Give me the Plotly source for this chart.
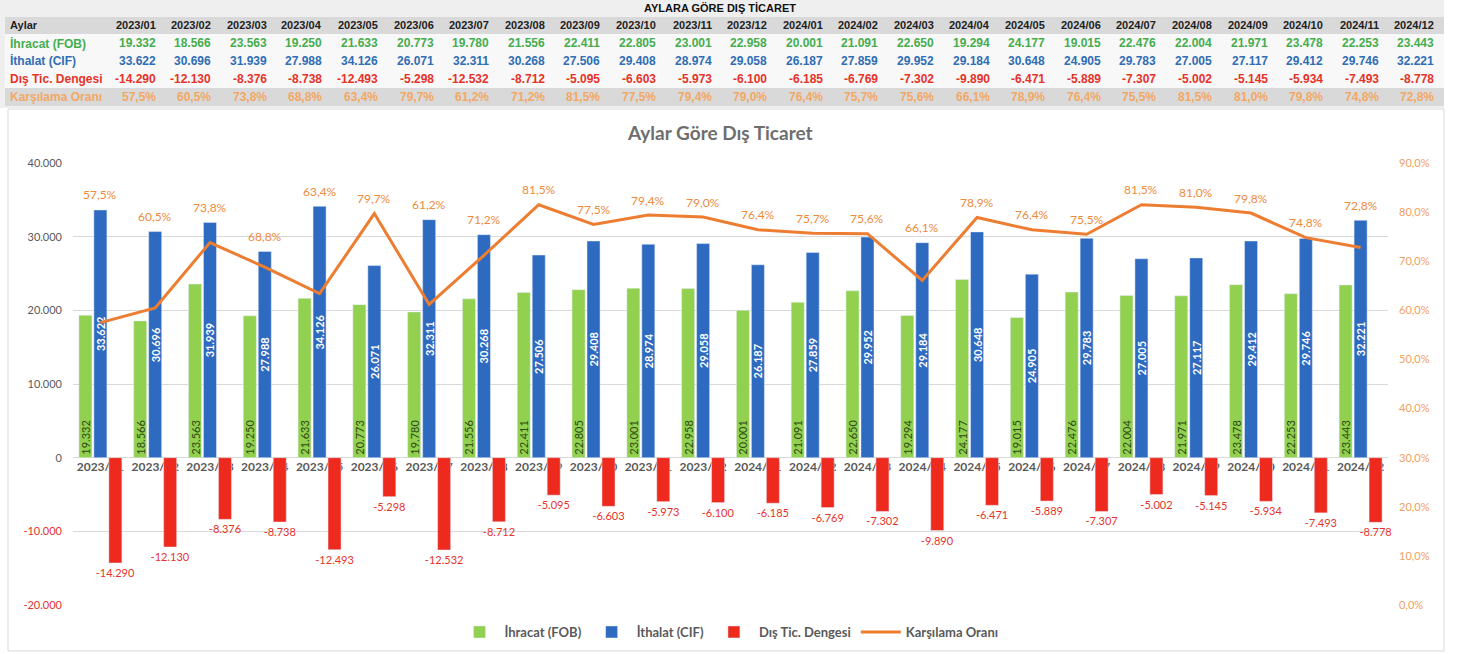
import plotly.graph_objects as go

# veriler
aylar = ["2023/01", "2023/02", "2023/03", "2023/04", "2023/05", "2023/06",
         "2023/07", "2023/08", "2023/09", "2023/10", "2023/11", "2023/12",
         "2024/01", "2024/02", "2024/03", "2024/04", "2024/05", "2024/06",
         "2024/07", "2024/08", "2024/09", "2024/10", "2024/11", "2024/12"]
ihracat = [19332, 18566, 23563, 19250, 21633, 20773, 19780, 21556, 22411, 22805, 23001, 22958,
           20001, 21091, 22650, 19294, 24177, 19015, 22476, 22004, 21971, 23478, 22253, 23443]
ithalat = [33622, 30696, 31939, 27988, 34126, 26071, 32311, 30268, 27506, 29408, 28974, 29058,
           26187, 27859, 29952, 29184, 30648, 24905, 29783, 27005, 27117, 29412, 29746, 32221]
denge = [-14290, -12130, -8376, -8738, -12493, -5298, -12532, -8712, -5095, -6603, -5973, -6100,
         -6185, -6769, -7302, -9890, -6471, -5889, -7307, -5002, -5145, -5934, -7493, -8778]
oran = [57.5, 60.5, 73.8, 68.8, 63.4, 79.7, 61.2, 71.2, 81.5, 77.5, 79.4, 79.0,
        76.4, 75.7, 75.6, 66.1, 78.9, 76.4, 75.5, 81.5, 81.0, 79.8, 74.8, 72.8]
satirlar = ["İhracat (FOB)", "İthalat (CIF)", "Dış Tic. Dengesi", "Karşılama Oranı"]

left_ticks = [-20000, -10000, 0, 10000, 20000, 30000, 40000]
right_ticks = [0, 10, 20, 30, 40, 50, 60, 70, 80, 90]

# renkler
GREEN = "#92D050"
BLUE = "#2E6BC0"
RED = "#EE2A1F"
ORANGE = "#ED7D31"
GRAY_TXT = "#595959"
T_GREEN = "#45AD4E"
T_BLUE = "#2F6DB5"
T_RED = "#E6332A"
T_ORANGE = "#F2A865"

W, H = 1464, 654


def tr_int(v):
    return f"{v:,}".replace(",", ".")


def tr_pct(v):
    return f"{v:.1f}%".replace(".", ",")


def px_x(p):
    return p / W


def px_y(p):
    return 1 - p / H


# grafik alani
xdom = [px_x(73), px_x(1388)]
ydom = [px_y(605), px_y(163)]
yrange = [-20000, 40000]
zero_pos = ydom[0] + (ydom[1] - ydom[0]) * (0 - yrange[0]) / (yrange[1] - yrange[0])

fig = go.Figure()

# cubuklar
fig.add_trace(go.Bar(
    x=aylar, y=ihracat, name="İhracat (FOB)", marker_color=GREEN,
    text=[tr_int(v) for v in ihracat], textposition="inside", textangle=-90,
    insidetextanchor="start",
    insidetextfont=dict(family="Lato", size=11, color="#2E4A14")
))
fig.add_trace(go.Bar(
    x=aylar, y=ithalat, name="İthalat (CIF)", marker_color=BLUE,
    text=[tr_int(v) for v in ithalat], textposition="inside", textangle=-90,
    insidetextanchor="middle",
    insidetextfont=dict(family="Lato", size=11, color="white", weight="bold")
))
fig.add_trace(go.Bar(
    x=aylar, y=denge, name="Dış Tic. Dengesi", marker_color=RED,
    text=[tr_int(v) for v in denge], textposition="outside", textangle=0,
    outsidetextfont=dict(family="Lato", size=11, color=T_RED), cliponaxis=False
))
fig.add_trace(go.Scatter(
    x=aylar, y=oran, name="Karşılama Oranı", yaxis="y2", mode="lines",
    line=dict(color=ORANGE, width=3)
))

# oran etiketleri (cubuk ustunde ya da nokta ustunde)
for i, m in enumerate(aylar):
    bar_top = (ithalat[i] - yrange[0]) / (yrange[1] - yrange[0]) * 90
    fig.add_annotation(x=m, y=max(oran[i], bar_top), xref="x", yref="y2",
                       text=tr_pct(oran[i]), showarrow=False, yshift=15,
                       font=dict(family="Lato", size=12, color="#EE8A3C"))

# ust tablo
tfont = "Liberation Sans, Arial"
col_right = [157.5 + 55.6 * i for i in range(len(aylar))]
row_y = [43, 61, 79, 97]
row_colors = [T_GREEN, T_BLUE, T_RED, T_ORANGE]
row_vals = [[tr_int(v) for v in ihracat], [tr_int(v) for v in ithalat],
            [tr_int(v) for v in denge], [tr_pct(v) for v in oran]]

fig.add_annotation(x=px_x(720), y=px_y(8), xref="paper", yref="paper", showarrow=False,
                   yanchor="middle", text="<b>AYLARA GÖRE DIŞ TİCARET</b>",
                   font=dict(family=tfont, size=11, color="#111111"))
fig.add_annotation(x=px_x(8), y=px_y(25), xref="paper", yref="paper", showarrow=False,
                   xanchor="left", yanchor="middle", text="<b>Aylar</b>",
                   font=dict(family=tfont, size=11, color="#222222"))
for i, m in enumerate(aylar):
    fig.add_annotation(x=px_x(col_right[i]), y=px_y(25), xref="paper", yref="paper",
                       showarrow=False, xanchor="right", yanchor="middle",
                       text="<b>" + m + "</b>",
                       font=dict(family=tfont, size=11, color="#222222"))
for r in range(len(satirlar)):
    fig.add_annotation(x=px_x(8), y=px_y(row_y[r]), xref="paper", yref="paper",
                       showarrow=False, xanchor="left", yanchor="middle",
                       text="<b>" + satirlar[r] + "</b>",
                       font=dict(family=tfont, size=12, color=row_colors[r]))
    for i in range(len(aylar)):
        fig.add_annotation(x=px_x(col_right[i]), y=px_y(row_y[r]), xref="paper", yref="paper",
                           showarrow=False, xanchor="right", yanchor="middle",
                           text="<b>" + row_vals[r][i] + "</b>",
                           font=dict(family=tfont, size=12, color=row_colors[r]))

# baslik
fig.add_annotation(x=px_x(720), y=px_y(132), xref="paper", yref="paper", showarrow=False,
                   yanchor="middle", text="<b>Aylar Göre Dış Ticaret</b>",
                   font=dict(family="Lato", size=19, color="#6E6E6E"))

# arka plan
def rect(x0, x1, y0, y1, fill, line=None):
    fig.add_shape(type="rect", xref="paper", yref="paper", layer="below",
                  x0=px_x(x0), x1=px_x(x1), y0=px_y(y1), y1=px_y(y0),
                  fillcolor=fill, line=line or dict(width=0))


rect(0, 1444, 0, 108, "#EFEFEF")
rect(5, 1444, 17, 34, "#D9D9D9")
rect(5, 1444, 34, 88, "#F8F8F8")
rect(5, 1444, 88, 106, "#D9D9D9")
rect(8, 1444, 109, 651, "white", dict(color="#D9D9D9", width=1))

left_text = []
for v in left_ticks:
    if v < 0:
        left_text.append('<span style="color:#E2332B">' + tr_int(v) + "</span>")
    else:
        left_text.append(tr_int(v))

fig.update_layout(
    width=W, height=H,
    margin=dict(l=0, r=0, t=0, b=0, autoexpand=False),
    paper_bgcolor="white", plot_bgcolor="rgba(0,0,0,0)",
    separators=",.",
    font=dict(family="Lato", size=11, color=GRAY_TXT),
    barmode="group", bargap=0.18, bargroupgap=0.13,
    uniformtext=dict(mode="show", minsize=11),
    showlegend=True,
    legend=dict(orientation="h", x=px_x(729), xanchor="center", y=px_y(632), yanchor="middle",
                itemwidth=40,
                font=dict(family="Lato", size=13, color=GRAY_TXT, weight="bold"),
                bgcolor="rgba(0,0,0,0)"),
    xaxis=dict(domain=xdom, type="category", anchor="free", position=zero_pos,
               showgrid=False, showline=False, zeroline=False, layer="below traces",
               automargin=False,
               tickfont=dict(family="Lato", size=12, color=GRAY_TXT, weight="bold"),
               tickangle=0),
    yaxis=dict(domain=ydom, range=yrange, tickvals=left_ticks, ticktext=left_text,
               gridcolor="#D9D9D9", zeroline=False, showline=False, automargin=False,
               ticklabelstandoff=10,
               tickfont=dict(family="Lato", size=11, color=GRAY_TXT)),
    yaxis2=dict(domain=ydom, range=[0, 90], overlaying="y", side="right", anchor="x",
                tickvals=right_ticks, ticktext=[tr_pct(v) for v in right_ticks],
                showgrid=False, zeroline=False, showline=False, automargin=False,
                ticklabelstandoff=10,
                tickfont=dict(family="Lato", size=11, color="#F0A060")),
)

fig.write_html("out.html", config={"displayModeBar": False},
               post_script="document.body.style.margin='0';")
